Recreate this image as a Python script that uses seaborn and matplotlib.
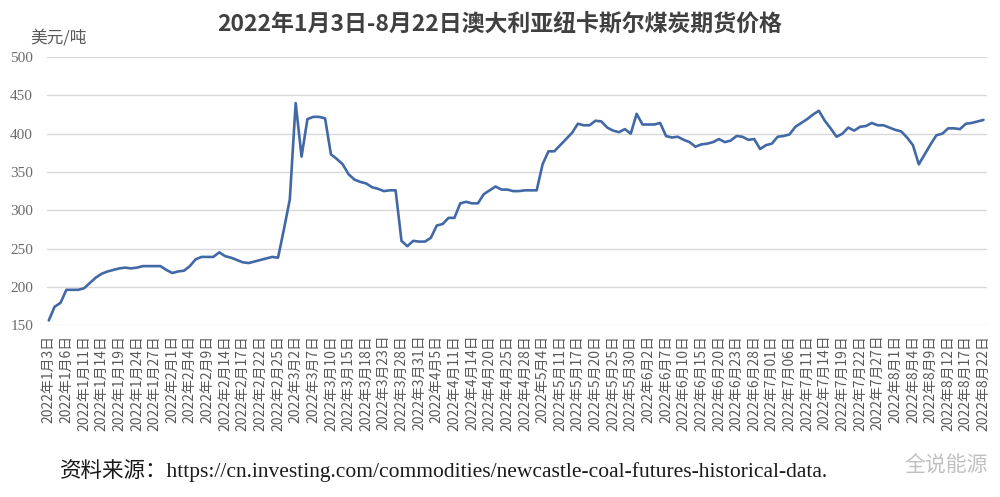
import pandas as pd
import matplotlib.pyplot as plt
import seaborn as sns

# Newcastle coal futures, USD/t, trading days 2022-01-03 .. 2022-08-22
prices = [
    156, 174, 179, 196, 196, 196, 198, 205, 212, 217,
    220, 222, 224, 225, 224, 225, 227, 227, 227, 227,
    222, 218, 220, 221, 227, 236, 239, 239, 239, 245,
    240, 238, 235, 232, 231, 233, 235, 237, 239, 238,
    275, 314, 440, 370, 419, 422, 422, 420, 373, 367,
    360, 347, 340, 337, 335, 330, 328, 325, 326, 326,
    260, 253, 260, 259, 259, 264, 280, 282, 290, 290,
    309, 311, 309, 309, 321, 326, 331, 327, 327, 325,
    325, 326, 326, 326, 360, 377, 377, 385, 393, 401,
    413, 411, 411, 417, 416, 408, 404, 402, 406, 400,
    426, 412, 412, 412, 414, 397, 395, 396, 392, 389,
    383, 386, 387, 389, 393, 389, 391, 397, 396, 392,
    393, 380, 385, 387, 396, 397, 399, 409, 414, 419,
    425, 430, 417, 407, 396, 400, 408, 404, 409, 410,
    414, 411, 411, 408, 405, 403, 395, 385, 360, 373,
    386, 398, 400, 407, 407, 406, 413, 414, 416, 418,
]

# every third trading day is labelled on the axis
tick_dates = [
    "1月3日", "1月6日", "1月11日", "1月14日", "1月19日", "1月24日", "1月27日",
    "2月1日", "2月4日", "2月9日", "2月14日", "2月17日", "2月22日", "2月25日",
    "3月2日", "3月7日", "3月10日", "3月15日", "3月18日", "3月23日", "3月28日", "3月31日",
    "4月5日", "4月11日", "4月14日", "4月20日", "4月25日", "4月28日",
    "5月4日", "5月11日", "5月17日", "5月20日", "5月25日", "5月30日",
    "6月2日", "6月7日", "6月10日", "6月15日", "6月20日", "6月23日", "6月28日",
    "7月01日", "7月06日", "7月11日", "7月14日", "7月19日", "7月22日", "7月27日",
    "8月1日", "8月4日", "8月9日", "8月12日", "8月17日", "8月22日",
]
tick_labels = ["2022年" + d for d in tick_dates]
y_ticks = [150, 200, 250, 300, 350, 400, 450, 500]

if __name__ == "__main__":
    df = pd.DataFrame({"day": range(len(prices)), "price": prices})

    sns.set_style("white")
    plt.rcParams['font.family'] = ['Noto Sans CJK SC', 'DejaVu Sans']

    fig = plt.figure(figsize=(10, 4.97), dpi=100)
    ax = fig.add_axes([0.047, 0.346, 0.94, 0.539])

    sns.lineplot(data=df, x="day", y="price", ax=ax, color="#4269A6", linewidth=1.9)

    ax.set_xlim(-0.3, len(prices) - 0.4)
    ax.set_ylim(150, 500)
    ax.set_yticks(y_ticks)
    ax.set_yticklabels([str(v) for v in y_ticks], fontsize=11, color="#6b6b6b",
                       family=['Liberation Serif', 'DejaVu Serif'])
    ax.set_xticks(range(0, len(prices), 3))
    ax.set_xticklabels(tick_labels, rotation=90, fontsize=10, color="#595959")
    ax.tick_params(axis='both', length=0)
    ax.tick_params(axis='y', pad=10)
    ax.tick_params(axis='x', pad=7)
    ax.set_xlabel("")
    ax.set_ylabel("")
    ax.grid(axis='y', color="#d9d9d9", linewidth=1)
    for s in ax.spines.values():
        s.set_visible(False)

    fig.text(0.5, 0.95, "2022年1月3日-8月22日澳大利亚纽卡斯尔煤炭期货价格",
             ha='center', va='center', fontsize=16.5, fontweight='bold', color="#404040")
    fig.text(0.03, 0.924, "美元/吨", ha='left', va='center', fontsize=12, color="#595959")
    fig.text(0.06, 0.054,
             "资料来源：https://cn.investing.com/commodities/newcastle-coal-futures-historical-data.",
             ha='left', va='center', fontsize=15.5, color="#1a1a1a",
             family=['Liberation Serif', 'Noto Sans CJK SC'])
    fig.text(0.988, 0.064, "全说能源", ha='right', va='center', fontsize=15, color="#c0c0c0")

    plt.savefig('out.png', dpi=100)
